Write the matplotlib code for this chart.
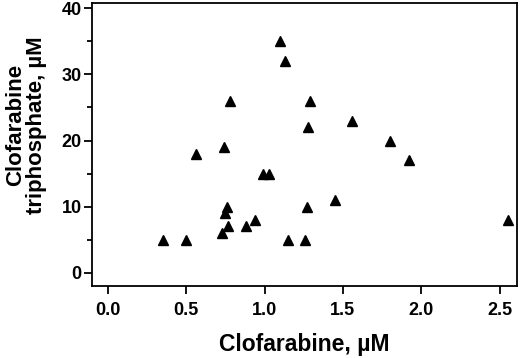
import numpy as np
import matplotlib.pyplot as plt
from matplotlib.ticker import MultipleLocator

# Dados
clofarabina = [0.35, 0.50, 0.56, 0.74, 0.78, 0.76, 0.75, 0.77, 0.73, 0.88,
               0.94, 0.99, 1.03, 1.10, 1.13, 1.15, 1.26, 1.27, 1.28, 1.29,
               1.45, 1.56, 1.80, 1.92, 2.55]
trifosfato = [5, 5, 18, 19, 26, 10, 9, 7, 6, 7,
              8, 15, 15, 35, 32, 5, 5, 10, 22, 26,
              11, 23, 20, 17, 8]

plt.rcParams['font.family'] = ['Liberation Sans', 'DejaVu Sans']
plt.rcParams['font.weight'] = 'bold'

fig = plt.figure(figsize=(5.2, 3.58), dpi=100)
ax = fig.add_axes([92/520, 1 - 286/358, (517-92)/520, (286-3)/358])

ax.plot(clofarabina, trifosfato, '^', color='black', ms=6.5, mec='black')

ax.set_xlim(-0.1, 2.61)
ax.set_ylim(-2, 40.8)
ax.set_xticks(np.arange(0, 2.6, 0.5))
ax.set_xticklabels(['0.0', '0.5', '1.0', '1.5', '2.0', '2.5'])
ax.set_yticks([0, 10, 20, 30, 40])
ax.yaxis.set_minor_locator(MultipleLocator(5))

for s in ax.spines.values():
    s.set_linewidth(1.3)
ax.tick_params(axis='both', which='major', direction='out', length=5.5, width=1.3,
               labelsize=13)
ax.tick_params(axis='x', which='major', pad=6)
ax.tick_params(axis='y', which='major', pad=2)
ax.tick_params(axis='y', which='minor', direction='out', length=3.5, width=1.3)
for lab in ax.get_xticklabels() + ax.get_yticklabels():
    lab.set_fontweight('bold')

ax.set_xlabel('Clofarabine, µM', fontsize=16.5, fontweight='bold', labelpad=10)
ax.set_ylabel('Clofarabine\ntriphosphate, µM', fontsize=16, fontweight='bold',
              linespacing=1.0)
ax.yaxis.set_label_coords(-0.106, 0.57)

fig.savefig('out.png', dpi=100)
